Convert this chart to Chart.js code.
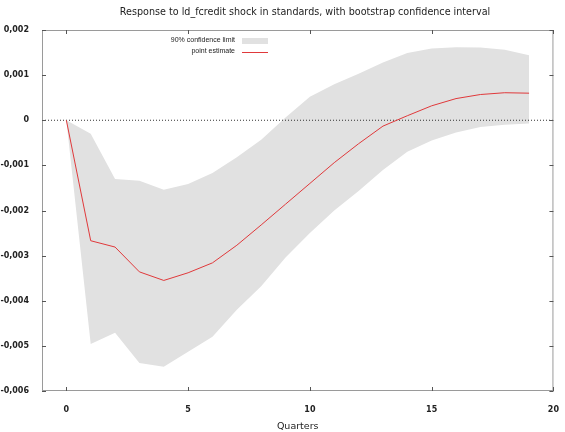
<!DOCTYPE html>
<html>
<head>
<meta charset="utf-8">
<script src="https://cdn.jsdelivr.net/npm/chart.js@4"></script>
<style>
  html, body { margin: 0; padding: 0; background: #fff; }
  #wrap { width: 565px; height: 432px; }
</style>
</head>
<body>
<div id="wrap"><canvas id="irf"></canvas></div>
<script>
// horizon (quarters)
var quarters = [0, 1, 2, 3, 4, 5, 6, 7, 8, 9, 10, 11, 12, 13, 14, 15, 16, 17, 18, 19];
// point estimate
var pointEst = [0, -0.00267, -0.00281, -0.00336, -0.00355, -0.00338, -0.00316, -0.00277, -0.00232, -0.00186,
                -0.0014, -0.00094, -0.00052, -0.00013, 0.0001, 0.00032, 0.00048, 0.00057, 0.00061, 0.0006];
// 90% confidence band
var upperBand = [0, -0.0003, -0.0013, -0.00134, -0.00154, -0.00141, -0.00117, -0.00082, -0.00043, 0.00006,
                 0.00052, 0.0008, 0.00103, 0.00128, 0.00149, 0.00159, 0.00162, 0.00161, 0.00156, 0.00144];
var lowerBand = [0, -0.00496, -0.00471, -0.00538, -0.00546, -0.00513, -0.0048, -0.0042, -0.00368, -0.00304,
                 -0.0025, -0.002, -0.00157, -0.0011, -0.0007, -0.00045, -0.00027, -0.00015, -0.0001, -0.00007];
var xTicks = [0, 5, 10, 15, 20];
var titleText = 'Response to ld_fcredit shock in standards, with bootstrap confidence interval';
var legendLabels = ['90% confidence limit', 'point estimate'];

function toPts(xs, ys) {
  return xs.map(function (x, i) { return { x: x, y: ys[i] }; });
}

// gnuplot-like frame, mirrored inward ticks, title and legend
var gnuplotDecor = {
  id: 'gnuplotDecor',
  afterDatasetsDraw: function (chart) {
    var ctx = chart.ctx;
    var a = chart.chartArea;
    var xs = chart.scales.x, ys = chart.scales.y;
    ctx.save();
    ctx.strokeStyle = '#9a9a9a';
    ctx.lineWidth = 1;
    ctx.strokeRect(a.left + 0.5, a.top + 0.5, a.right - a.left - 1, a.bottom - a.top - 1);
    ctx.strokeStyle = '#555';
    ctx.beginPath();
    xTicks.forEach(function (t) {
      var px = Math.round(xs.getPixelForValue(t)) + 0.5;
      ctx.moveTo(px, a.bottom); ctx.lineTo(px, a.bottom - 4);
      ctx.moveTo(px, a.top); ctx.lineTo(px, a.top + 4);
    });
    ys.ticks.forEach(function (t) {
      var py = Math.round(ys.getPixelForValue(t.value)) + 0.5;
      ctx.moveTo(a.left, py); ctx.lineTo(a.left + 4, py);
      ctx.moveTo(a.right, py); ctx.lineTo(a.right - 4, py);
    });
    ctx.stroke();

    // title
    ctx.fillStyle = '#222';
    ctx.font = '9.6px "DejaVu Sans"';
    ctx.textAlign = 'center';
    ctx.textBaseline = 'middle';
    ctx.fillText(titleText, 305, 12);

    // legend
    ctx.font = '7px "Liberation Sans"';
    ctx.textAlign = 'right';
    ctx.fillStyle = '#222';
    ctx.fillText(legendLabels[0], 235, 40.5);
    ctx.fillText(legendLabels[1], 235, 51);
    ctx.fillStyle = '#e1e1e1';
    ctx.fillRect(242, 38, 26, 6);
    ctx.strokeStyle = '#e0393b';
    ctx.beginPath();
    ctx.moveTo(242, 52.5); ctx.lineTo(268, 52.5);
    ctx.stroke();
    ctx.restore();
  }
};

// Chart.js paints the first dataset last, so the red line goes first
var cfg = {
  type: 'line',
  data: {
    datasets: [
      {
        label: 'point estimate',
        data: toPts(quarters, pointEst),
        borderColor: '#e0393b',
        borderWidth: 1,
        pointRadius: 0,
        fill: false
      },
      {
        label: 'zero',
        data: toPts([-1, 20], [0, 0]),
        borderColor: '#333',
        borderWidth: 1,
        borderDash: [1, 2],
        pointRadius: 0,
        fill: false
      },
      {
        label: 'upper',
        data: toPts(quarters, upperBand),
        borderWidth: 0,
        pointRadius: 0,
        backgroundColor: '#e1e1e1',
        fill: '+1'
      },
      {
        label: 'lower',
        data: toPts(quarters, lowerBand),
        borderWidth: 0,
        pointRadius: 0,
        fill: false
      }
    ]
  },
  options: {
    responsive: true,
    maintainAspectRatio: false,
    animation: false,
    layout: { padding: { top: 30, right: 8, left: 0, bottom: 0 } },
    plugins: {
      legend: { display: false },
      tooltip: { enabled: false },
      title: { display: false }
    },
    scales: {
      x: {
        type: 'linear',
        min: -1,
        max: 20,
        grid: { display: false },
        border: { display: false },
        afterBuildTicks: function (s) { s.ticks = xTicks.map(function (v) { return { value: v }; }); },
        afterFit: function (s) { s.height = 41; },
        ticks: {
          color: '#222',
          padding: 6,
          maxRotation: 0,
          font: { family: 'DejaVu Sans', size: 8, weight: 'bold' }
        },
        title: {
          display: true,
          text: 'Quarters',
          color: '#222',
          padding: { top: 2, bottom: 0 },
          font: { family: 'DejaVu Sans', size: 9.5 }
        }
      },
      y: {
        min: -0.006,
        max: 0.002,
        grid: { display: false },
        border: { display: false },
        afterFit: function (s) { s.width = 42; },
        ticks: {
          stepSize: 0.001,
          color: '#222',
          padding: 5,
          font: { family: 'DejaVu Sans', size: 8, weight: 'bold' },
          callback: function (v) {
            if (Math.abs(v) < 1e-9) return '0';
            return v.toFixed(3).replace('.', ',');
          }
        }
      }
    }
  },
  plugins: [gnuplotDecor]
};

new Chart(document.getElementById('irf'), cfg);
</script>
</body>
</html>
